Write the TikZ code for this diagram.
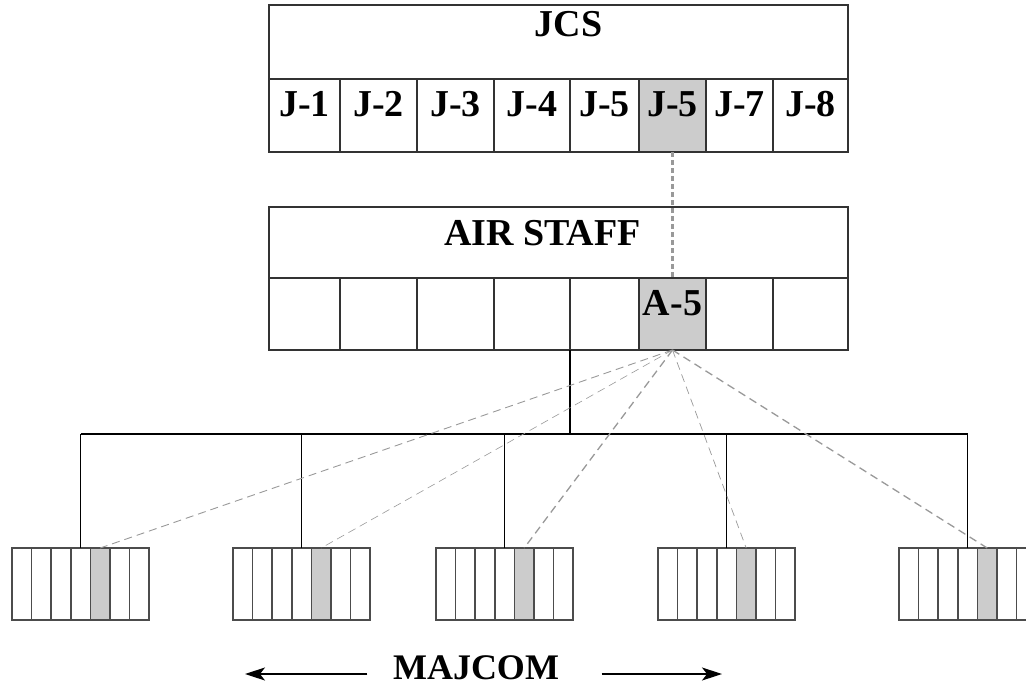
\documentclass[tikz,border=0pt]{standalone}
\usepackage{fontspec}
\setmainfont{Liberation Serif}
\usetikzlibrary{positioning,arrows.meta}
\definecolor{shade}{HTML}{CCCCCC}
\definecolor{link}{HTML}{999999}
\begin{document}
\begin{tikzpicture}[
    x=1pt, y=-1pt,
    line width=1.2pt,
    font=\fontsize{38}{44}\selectfont\bfseries,
    box/.style={draw=black!80, inner sep=0pt, outer sep=0pt, minimum width=579pt, minimum height=#1, anchor=north west},
    cell/.style={draw=black!80, inner sep=0pt, outer sep=0pt, minimum height=73pt},
    tag/.style={label={[anchor=north, yshift=-10pt, inner sep=2pt]north:#1}},
    unit/.style={draw=black!70, line width=1.5pt, inner sep=0pt, outer sep=0pt, minimum width=19.6pt, minimum height=72pt},
    dotlink/.style={link, line width=3pt, dash pattern=on 5pt off 3pt},
    dashlink/.style={link, line width=#1, dash pattern=on 8pt off 5pt},
    pointer/.style={-{Stealth[length=20pt, width=13pt, inset=5pt]}}]
  \useasboundingbox (0,0) rectangle (1026,688);

  % staff boxes
  \node[box=74pt, label={[anchor=north, xshift=10pt, yshift=-4pt, inner sep=2pt]north:JCS}] (jcs) at (269,5) {};
  \node[box=71pt, label={[anchor=north, xshift=-16pt, yshift=-11pt, inner sep=2pt]north:AIR STAFF}] (air) at (269,207) {};
  \foreach \l/\r/\t/\u/\f [count=\i] in {
      269/340/J-1//white, 340/417/J-2//white, 417/494/J-3//white, 494/570/J-4//white,
      570/639/J-5//white, 639/706/J-5/A-5/shade, 706/773/J-7//white, 773/848/J-8//white}
  {
    \node[cell, fill=\f, minimum width={(\r-\l)*1pt}, tag=\t] (j\i) at ({(\l+\r)/2},115.5) {};
    \node[cell, fill=\f, minimum width={(\r-\l)*1pt}, minimum height=72pt, tag=\u] (a\i) at ({(\l+\r)/2},314) {};
  }

  % majcom boxes
  \foreach \x [count=\m] in {12,233,436,658,899}
    \foreach \k in {1,...,7}
    {
      \ifnum\k=5 \def\f{shade}\else\def\f{white}\fi
      \node[unit, fill=\f] (m\m-\k) at ({\x+(\k-0.5)*19.6},584) {};
    }

  % tree
  \coordinate (bus) at (0,434);
  \draw (a5.south west) -- (a5.south west |- bus);
  \draw (m1-4.north |- bus) -- (m5-4.north |- bus);
  \foreach \m in {1,...,5}
    \draw (m\m-4.north |- bus) -- (m\m-4.north);

  % functional links
  \draw[dotlink] (j6.south) -- (a6.north);
  \foreach \m/\w in {1/0.9pt, 2/0.6pt, 3/1.3pt, 4/0.7pt, 5/1.3pt}
    \draw[dashlink=\w] (a6.south) -- (m\m-5.north);

  % label
  \node[anchor=base, inner sep=1pt, font=\fontsize{36}{40}\selectfont\bfseries] (majcom) at (476,679) {MAJCOM};
  \coordinate (west end) at (245,674);
  \coordinate (east end) at (722,674);
  \draw[pointer] ([xshift=-24pt]majcom.west |- west end) -- (west end);
  \draw[pointer] ([xshift=41pt]majcom.east |- east end) -- (east end);
\end{tikzpicture}
\end{document}
